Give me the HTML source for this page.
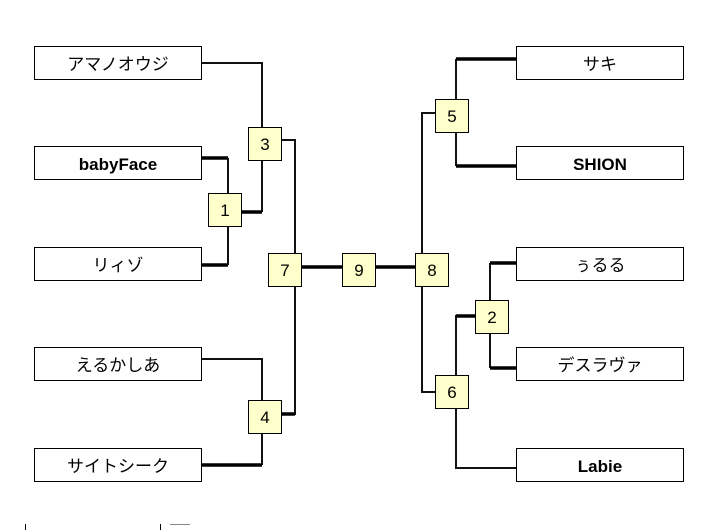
<!DOCTYPE html>
<html><head><meta charset="utf-8"><style>
html,body{margin:0;padding:0;background:#fff;width:720px;height:530px;overflow:hidden}
text{font-family:"Liberation Sans","Noto Sans CJK JP",sans-serif;font-size:17px}
</style></head><body>
<svg width="720" height="530" xmlns="http://www.w3.org/2000/svg">
<g fill="none" stroke="#111" stroke-linejoin="miter">
<!-- thin lines -->
<g stroke-width="2">
<polyline points="201,63 262,63 262,127"/>
<polyline points="281,140 295,140 295,253"/>
<polyline points="228,158 228,193"/>
<polyline points="228,226 228,265"/>
<polyline points="262,160 262,212"/>
<polyline points="295,286 295,414 281,414"/>
<polyline points="201,359 262,359 262,400"/>
<polyline points="262,434 262,465"/>
<polyline points="435,113 422,113 422,253"/>
<polyline points="422,286 422,392 435,392"/>
<polyline points="456,59 456,99"/>
<polyline points="456,132 456,166"/>
<polyline points="490,263 490,300"/>
<polyline points="490,333 490,368"/>
<polyline points="475,316 456,316 456,375"/>
<polyline points="456,408 456,468 516,468"/>
</g>
<g stroke-width="3.5" stroke="#000">
<polyline points="201,158 228,158"/>
<polyline points="201,265 228,265"/>
<polyline points="241,212 262,212"/>
<polyline points="262,465 201,465"/>
<polyline points="281,414 295,414"/>
<polyline points="301,267 342,267"/>
<polyline points="375,267 415,267"/>
<polyline points="456,59 516,59"/>
<polyline points="456,166 516,166"/>
<polyline points="490,263 516,263"/>
<polyline points="490,368 516,368"/>
<polyline points="456,316 475,316"/>
</g>
</g>
<g fill="#fff" stroke="#000" stroke-width="1">
<rect x="34.5" y="46.5" width="167" height="33"/>
<rect x="34.5" y="146.5" width="167" height="33"/>
<rect x="34.5" y="247.5" width="167" height="33"/>
<rect x="34.5" y="347.5" width="167" height="33"/>
<rect x="34.5" y="448.5" width="167" height="33"/>
<rect x="516.5" y="46.5" width="167" height="33"/>
<rect x="516.5" y="146.5" width="167" height="33"/>
<rect x="516.5" y="247.5" width="167" height="33"/>
<rect x="516.5" y="347.5" width="167" height="33"/>
<rect x="516.5" y="448.5" width="167" height="33"/>
</g>
<g text-anchor="middle" fill="#000">
<text x="118" y="70">アマノオウジ</text>
<text x="118" y="170" font-weight="bold">babyFace</text>
<text x="118" y="271">リィゾ</text>
<text x="118" y="371">えるかしあ</text>
<text x="118" y="472">サイトシーク</text>
<text x="600" y="70">サキ</text>
<text x="600" y="170" font-weight="bold">SHION</text>
<text x="600" y="271">ぅるる</text>
<text x="600" y="371">デスラヴァ</text>
<text x="600" y="472" font-weight="bold">Labie</text>
</g>
<g fill="#ffffcc" stroke="#000" stroke-width="1">
<rect x="248.5" y="127.5" width="33" height="33"/>
<rect x="208.5" y="193.5" width="33" height="33"/>
<rect x="268.5" y="253.5" width="33" height="33"/>
<rect x="342.5" y="253.5" width="33" height="33"/>
<rect x="415.5" y="253.5" width="33" height="33"/>
<rect x="248.5" y="400.5" width="33" height="33"/>
<rect x="435.5" y="99.5" width="33" height="33"/>
<rect x="475.5" y="300.5" width="33" height="33"/>
<rect x="435.5" y="375.5" width="33" height="33"/>
</g>
<g text-anchor="middle" fill="#000" style="font-size:18px">
<text x="265" y="150">3</text>
<text x="225" y="216">1</text>
<text x="285" y="276">7</text>
<text x="359" y="276">9</text>
<text x="432" y="276">8</text>
<text x="265" y="423">4</text>
<text x="452" y="122">5</text>
<text x="492" y="323">2</text>
<text x="452" y="398">6</text>
</g>
<g stroke="#000" stroke-width="1">
<line x1="25.5" y1="524" x2="25.5" y2="530"/>
<line x1="160.5" y1="524" x2="160.5" y2="530"/>
<line x1="170" y1="524.5" x2="190" y2="524.5" stroke="#888"/>
</g>
</svg>
</body></html>
